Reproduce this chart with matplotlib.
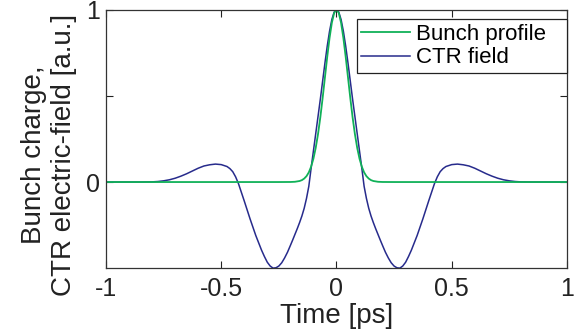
import matplotlib
matplotlib.use('Agg')
import matplotlib.pyplot as plt

plt.rcParams['font.family'] = ['Liberation Sans', 'DejaVu Sans']
plt.rcParams['axes.unicode_minus'] = False

# bunch profile
t_bunch = [-1.0, -0.25, -0.2, -0.18, -0.16, -0.15, -0.14, -0.13, -0.12, -0.11,
           -0.10, -0.09, -0.08, -0.07, -0.06, -0.05, -0.04, -0.03, -0.02, -0.01,
           0.0,
           0.01, 0.02, 0.03, 0.04, 0.05, 0.06, 0.07, 0.08, 0.09, 0.10,
           0.11, 0.12, 0.13, 0.14, 0.15, 0.16, 0.18, 0.2, 0.25, 1.0]
bunch = [0.0, 0.0, 0.0003, 0.0015, 0.006, 0.011, 0.020, 0.034, 0.056, 0.089,
         0.135, 0.198, 0.278, 0.375, 0.487, 0.607, 0.726, 0.835, 0.923, 0.980,
         1.0,
         0.980, 0.923, 0.835, 0.726, 0.607, 0.487, 0.375, 0.278, 0.198, 0.135,
         0.089, 0.056, 0.034, 0.020, 0.011, 0.006, 0.0015, 0.0003, 0.0, 0.0]

# CTR field
t_ctr = [-1.0, -0.9, -0.85, -0.8, -0.775, -0.75, -0.725, -0.7, -0.675, -0.65,
         -0.625, -0.6, -0.575, -0.55, -0.525, -0.5, -0.475, -0.4625, -0.45, -0.4375,
         -0.425, -0.4, -0.375, -0.35, -0.325, -0.3125, -0.3, -0.2875, -0.275, -0.2625,
         -0.25, -0.2375, -0.225, -0.2125, -0.2, -0.19, -0.18, -0.17, -0.16, -0.15,
         -0.14, -0.13, -0.12, -0.11, -0.10, -0.09, -0.08, -0.07, -0.06, -0.05,
         -0.04, -0.03, -0.02, -0.01,
         0.0,
         0.01, 0.02, 0.03, 0.04, 0.05, 0.06, 0.07, 0.08, 0.09, 0.10,
         0.11, 0.12, 0.13, 0.14, 0.15, 0.16, 0.17, 0.18, 0.19, 0.2,
         0.2125, 0.225, 0.2375, 0.25, 0.2625, 0.275, 0.2875, 0.3, 0.3125, 0.325,
         0.35, 0.375, 0.4, 0.425, 0.4375, 0.45, 0.4625, 0.475, 0.5, 0.525,
         0.55, 0.575, 0.6, 0.625, 0.65, 0.675, 0.7, 0.725, 0.75, 0.775,
         0.8, 0.85, 0.9, 1.0]
ctr = [0.0, 0.0, 0.0, 0.001, 0.003, 0.007, 0.013, 0.022, 0.034, 0.048,
       0.064, 0.08, 0.093, 0.1, 0.104, 0.101, 0.09, 0.078, 0.06, 0.03,
       -0.01, -0.11, -0.213, -0.31, -0.395, -0.432, -0.465, -0.487, -0.499, -0.497,
       -0.487, -0.468, -0.44, -0.407, -0.368, -0.336, -0.303, -0.27, -0.235, -0.197,
       -0.152, -0.095, -0.025, 0.08, 0.18, 0.28, 0.38, 0.48, 0.585, 0.69,
       0.788, 0.874, 0.942, 0.985,
       1.0,
       0.985, 0.942, 0.874, 0.788, 0.69, 0.585, 0.48, 0.38, 0.28, 0.18,
       0.08, -0.025, -0.095, -0.152, -0.197, -0.235, -0.27, -0.303, -0.336, -0.368,
       -0.407, -0.44, -0.468, -0.487, -0.497, -0.499, -0.487, -0.465, -0.432, -0.395,
       -0.31, -0.213, -0.11, -0.01, 0.03, 0.06, 0.078, 0.09, 0.101, 0.104,
       0.1, 0.093, 0.08, 0.064, 0.048, 0.034, 0.022, 0.013, 0.007, 0.003,
       0.001, 0.0, 0.0, 0.0]

xticks = [-1, -0.5, 0, 0.5, 1]
xticklabels = ['-1', '-0.5', '0', '0.5', '1']
yticks = [0, 0.5, 1]
yticklabels = ['0', '', '1']

green = '#10b158'
navy = '#272b8c'

fig = plt.figure(figsize=(5.75, 3.36), dpi=100)
ax = fig.add_axes([0.1843, 0.2015, 0.8017, 0.7702])

l_ctr, = ax.plot(t_ctr, ctr, color=navy, lw=1.1, label='CTR field')
l_bunch, = ax.plot(t_bunch, bunch, color=green, lw=1.3, label='Bunch profile')

ax.set_xlim(-1, 1)
ax.set_ylim(-0.5, 1)
ax.set_xticks(xticks)
ax.set_xticklabels(xticklabels)
ax.set_yticks(yticks)
ax.set_yticklabels(yticklabels)
ax.tick_params(direction='in', length=5, width=0.8, top=True, right=True,
               labelsize=18, colors='#222222')
ax.tick_params(axis='x', pad=6)
ax.tick_params(axis='y', pad=4)
for s in ax.spines.values():
    s.set_linewidth(0.9)
    s.set_color('#333333')

ax.set_xlabel('Time [ps]', fontsize=20, color='#222222', labelpad=2)
ax.set_ylabel('Bunch charge,\nCTR electric-field [a.u.]', fontsize=20,
              color='#222222')
ax.yaxis.set_label_coords(-0.063, 0.438)

leg = ax.legend(handles=[l_bunch, l_ctr], loc='upper left',
                bbox_to_anchor=(0.544, 0.762, 0.456, 0.2), mode='expand',
                borderaxespad=0, fontsize=16, frameon=True, fancybox=False,
                framealpha=1, edgecolor='#222222', handlelength=2.2,
                handletextpad=0.25, borderpad=0.2, labelspacing=0.12)
leg.get_frame().set_linewidth(0.9)

fig.savefig('out.png', dpi=100)
